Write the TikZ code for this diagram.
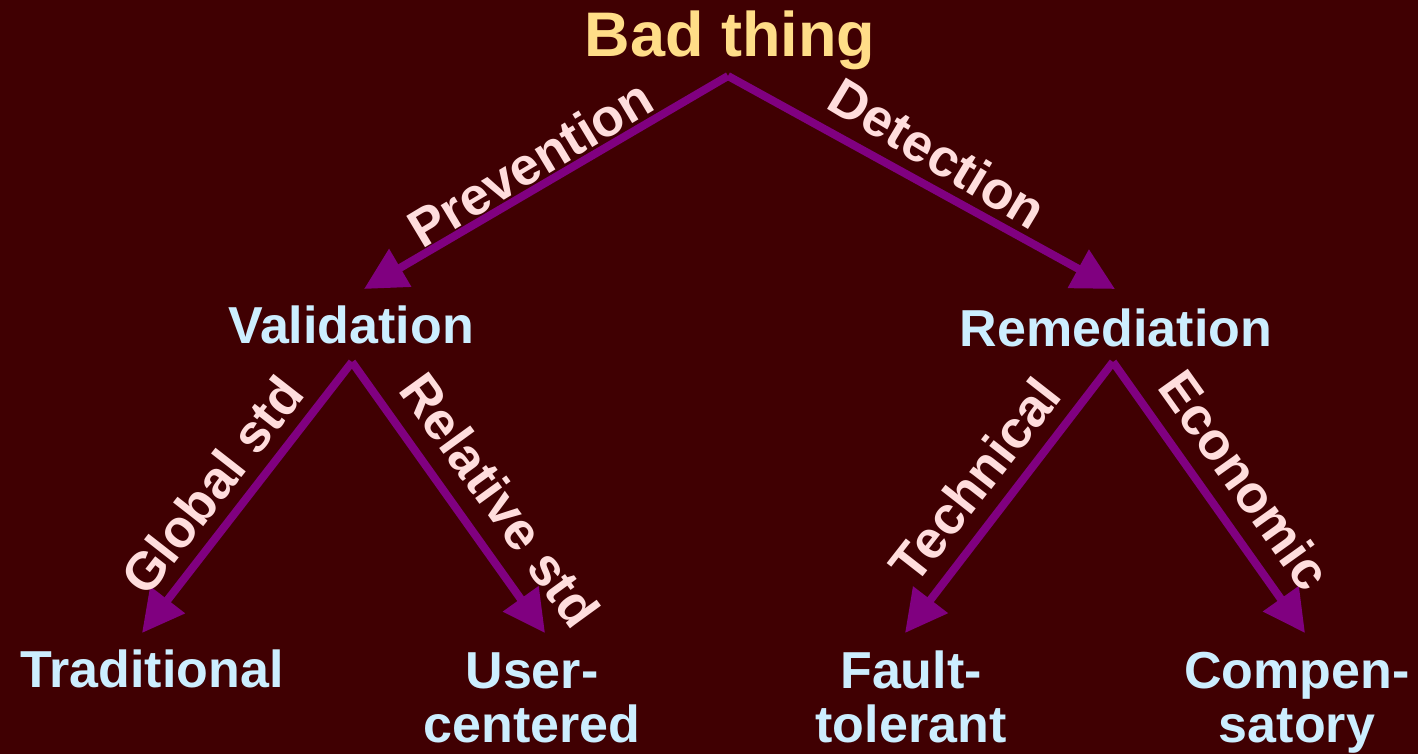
\documentclass[tikz,border=0pt]{standalone}
\usepackage{fontspec}
\setmainfont{Liberation Sans}
\usetikzlibrary{arrows.meta}
\definecolor{bgmaroon}{RGB}{64,0,2}
\definecolor{titlegold}{RGB}{255,221,136}
\definecolor{edgepink}{RGB}{255,221,221}
\definecolor{leafblue}{RGB}{204,238,255}
\definecolor{arrowpurple}{RGB}{128,0,128}
\tikzset{
  rootlabel/.style={text=titlegold, font=\bfseries\fontsize{31.5}{33}\selectfont, inner sep=0pt, anchor=base},
  treelabel/.style={text=leafblue, font=\bfseries\fontsize{26}{27}\selectfont, inner sep=0pt, anchor=base, align=center},
  branchlabel/.style={text=edgepink, font=\bfseries\fontsize{26.5}{27}\selectfont, inner sep=0pt},
  branch/.style={draw=arrowpurple, line width=4pt, -{Triangle[length=21pt,width=21pt]}}
}
\begin{document}
\begin{tikzpicture}[x=0.5pt,y=-0.5pt]
  \fill[bgmaroon] (0,0) rectangle (1418,754);
  \useasboundingbox (0,0) rectangle (1418,754);

  % labels of the tree (two-line labels sit on the baseline of their last line)
  \node[rootlabel] (bad) at (730,57) {Bad thing};
  \node[treelabel] (val) at (351,343) {Validation};
  \node[treelabel] (rem) at (1116,346) {Remediation};
  \node[treelabel] (trad) at (152,687) {Traditional};
  \node[treelabel] (user) at (532,742) {User-\\centered};
  \node[treelabel] (fault) at (911,742) {Fault-\\tolerant};
  \node[treelabel] (comp) at (1297,742) {Compen-\\satory};

  % branch points and arrow tips
  \coordinate (bad-out) at (728,76);
  \coordinate (val-in) at (364,289);
  \coordinate (rem-in) at (1115,289);
  \coordinate (val-out) at (352,362);
  \coordinate (rem-out) at (1113,362);
  \coordinate (trad-in) at (142,633);
  \coordinate (user-in) at (545,633);
  \coordinate (fault-in) at (905,633);
  \coordinate (comp-in) at (1305,633);

  \draw[branch] (bad-out) -- (val-in);
  \draw[branch] (bad-out) -- (rem-in);
  \draw[branch] (val-out) -- (trad-in);
  \draw[branch] (val-out) -- (user-in);
  \draw[branch] (rem-out) -- (fault-in);
  \draw[branch] (rem-out) -- (comp-in);

  % branch names
  \node[branchlabel, rotate=31] (prev) at (530,163) {Prevention};
  \node[branchlabel, rotate=-31] (det) at (938,153) {Detection};
  \node[branchlabel, rotate=52] (glob) at (212,485) {Global std};
  \node[branchlabel, rotate=-54] (rel) at (500,500) {Relative std};
  \node[branchlabel, rotate=52] (tech) at (975,480) {Technical};
  \node[branchlabel, rotate=-54.5] (econ) at (1245,480) {Economic};
\end{tikzpicture}
\end{document}
